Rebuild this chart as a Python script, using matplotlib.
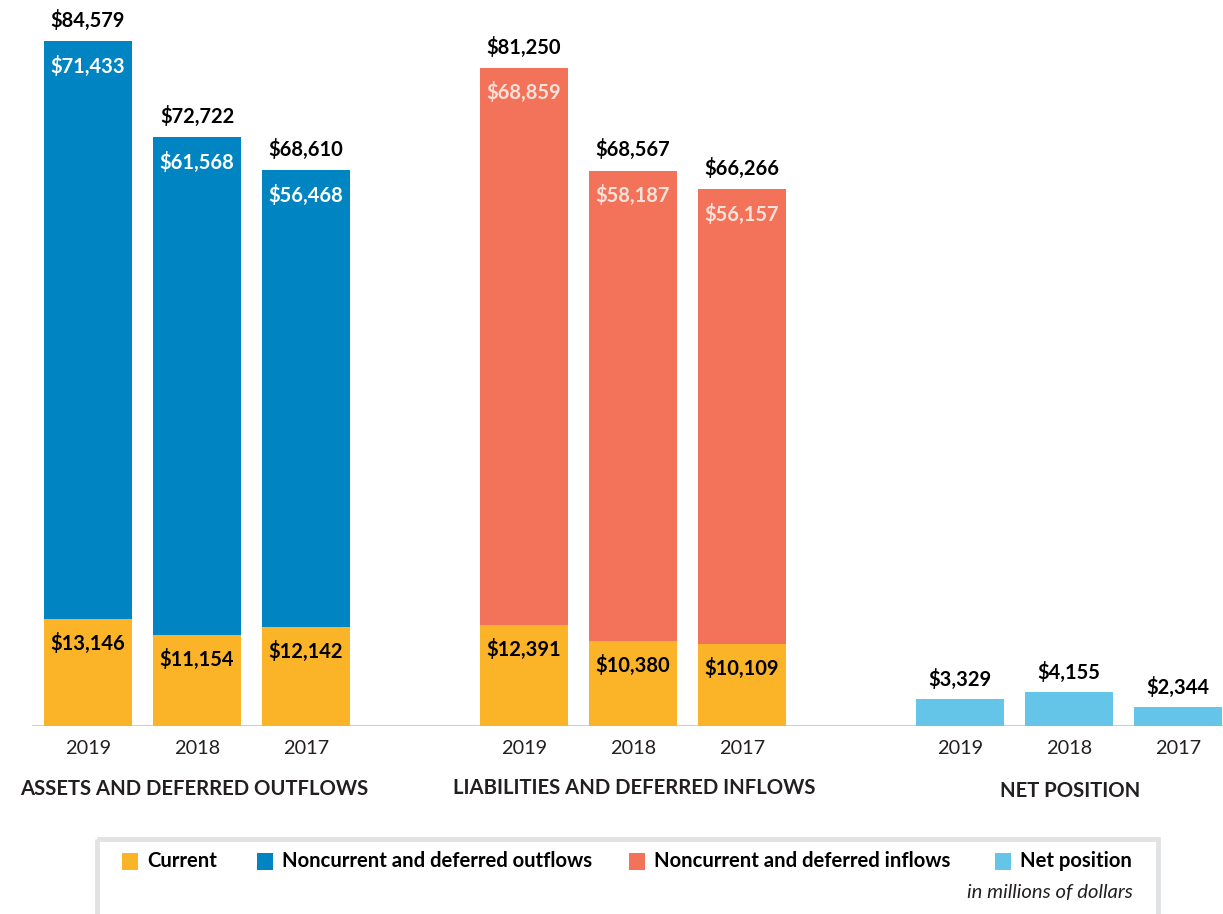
import matplotlib.pyplot as plt
from matplotlib.patches import Rectangle

plt.rcParams['font.family'] = ['Lato', 'DejaVu Sans']

years = ['2019', '2018', '2017']
groups = ['ASSETS AND DEFERRED OUTFLOWS', 'LIABILITIES AND DEFERRED INFLOWS', 'NET POSITION']

assets_current = [13146, 11154, 12142]
assets_noncurrent = [71433, 61568, 56468]
liab_current = [12391, 10380, 10109]
liab_noncurrent = [68859, 58187, 56157]
net_position = [3329, 4155, 2344]

c_current = '#FBB328'
c_out = '#0085C2'
c_in = '#F2735A'
c_net = '#64C5E8'

legend_labels = ['Current', 'Noncurrent and deferred outflows',
                 'Noncurrent and deferred inflows', 'Net position']
legend_colors = [c_current, c_out, c_in, c_net]

W, H = 1223, 914
fig = plt.figure(figsize=(W / 100, H / 100), dpi=100)

base_px = 725.5
ax = fig.add_axes([0, (H - base_px) / H, 1, base_px / H])
ax.axis('off')
x0, step = 88, 109
ax.set_xlim((0 - x0) / step, (W - x0) / step)
ax.set_ylim(0, 84579 * base_px / 684.5)

pos = [[0, 1, 2], [4, 5, 6], [8, 9, 10]]
bw = 88 / step
vfs = 14.5


def money(v):
    return '${:,}'.format(v)


def stacked(xs, cur, nonc, col, nc_txt):
    for x, c, n in zip(xs, cur, nonc):
        ax.bar(x, c, bw, color=c_current, linewidth=0)
        ax.bar(x, n, bw, bottom=c, color=col, linewidth=0)
        ax.annotate(money(c + n), (x, c + n), xytext=(0, 15), textcoords='offset points',
                    ha='center', va='center', fontsize=vfs, fontweight='bold', color='black')
        ax.annotate(money(n), (x, c + n), xytext=(0, -18), textcoords='offset points',
                    ha='center', va='center', fontsize=vfs, fontweight='bold', color=nc_txt)
        ax.annotate(money(c), (x, c), xytext=(0, -17.5), textcoords='offset points',
                    ha='center', va='center', fontsize=vfs, fontweight='bold', color='black')


stacked(pos[0], assets_current, assets_noncurrent, c_out, 'white')
stacked(pos[1], liab_current, liab_noncurrent, c_in, '#FDE2DA')

for x, v in zip(pos[2], net_position):
    ax.bar(x, v, bw, color=c_net, linewidth=0)
    ax.annotate(money(v), (x, v), xytext=(0, 14), textcoords='offset points',
                ha='center', va='center', fontsize=vfs, fontweight='bold', color='black')

ax.axhline(0, xmin=33 / W, xmax=1, color='#C8C8C8', lw=2, zorder=0)

# overlay in pixel coordinates for labels and legend
ov = fig.add_axes([0, 0, 1, 1])
ov.set_xlim(0, W)
ov.set_ylim(H, 0)
ov.axis('off')

for g, xs in enumerate(pos):
    for x, yr in zip(xs, years):
        px = x0 + x * step
        ov.text(px, 748, yr, ha='center', va='center', fontsize=14.3, color='#231F20')

tfs = 14.6
ov.text(194, 789, groups[0], ha='center', va='center', fontsize=tfs, fontweight='bold', color='#231F20')
ov.text(634, 788, groups[1], ha='center', va='center', fontsize=tfs, fontweight='bold', color='#231F20')
ov.text(1070, 791, groups[2], ha='center', va='center', fontsize=tfs, fontweight='bold', color='#231F20')

ov.add_patch(Rectangle((97, 839), 1061, 100, fill=False, edgecolor='#E1E2E4', lw=3.5))

lx = [122, 257, 629, 995]
for x, lab, col in zip(lx, legend_labels, legend_colors):
    ov.add_patch(Rectangle((x, 853), 16, 17, color=col, lw=0))
    ov.text(x + 25, 861, lab, ha='left', va='center', fontsize=14.6, fontweight='bold', color='black')

ov.text(1133, 893, 'in millions of dollars', ha='right', va='center', fontsize=14.6,
        fontstyle='italic', color='#231F20')

fig.savefig('out.png', dpi=100)
